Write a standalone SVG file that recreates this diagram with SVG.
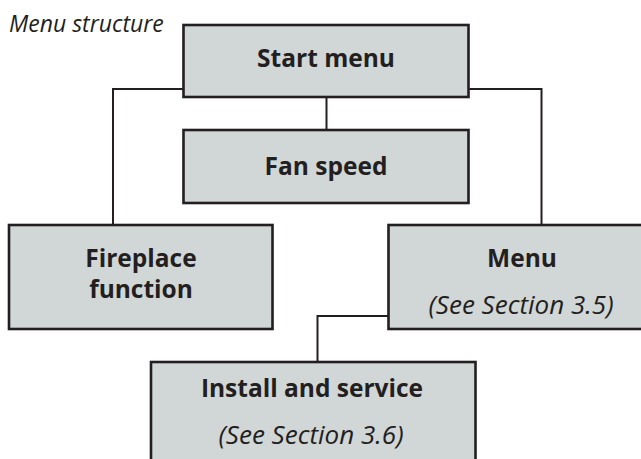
<svg xmlns="http://www.w3.org/2000/svg" width="641" height="459" viewBox="0 0 641 459">
<style>
.box{fill:#d1d6d6;stroke:#231f20;stroke-width:2.6}
.conn{fill:none;stroke:#231f20;stroke-width:2}
.b{font-family:"Open Sans","Liberation Sans",sans-serif;font-weight:bold;font-size:24.5px;fill:#231f20;text-anchor:middle}
.i{font-family:"Open Sans","Liberation Sans",sans-serif;font-style:italic;font-size:26px;fill:#231f20;text-anchor:middle}
</style>
<rect width="641" height="459" fill="#ffffff"/>
<text x="9" y="32" font-family="Open Sans, Liberation Sans, sans-serif" font-style="italic" font-size="23" fill="#231f20">Menu structure</text>
<g id="connectors">
<polyline class="conn" points="183.5,89 113,89 113,225"/>
<polyline class="conn" points="468.5,89 541.5,89 541.5,225"/>
<line class="conn" x1="326.5" y1="97" x2="326.5" y2="130"/>
<polyline class="conn" points="388.5,316 317.5,316 317.5,362"/>
</g>
<g id="start-menu">
<rect class="box" x="183.5" y="25" width="285" height="72"/>
<text class="b" x="326" y="67">Start menu</text>
</g>
<g id="fan-speed">
<rect class="box" x="183.5" y="130" width="285" height="73"/>
<text class="b" x="326" y="175">Fan speed</text>
</g>
<g id="fireplace-function">
<rect class="box" x="9" y="225" width="263.5" height="104"/>
<text class="b" x="141" y="267">Fireplace</text>
<text class="b" x="141" y="298">function</text>
</g>
<g id="menu">
<rect class="box" x="388.5" y="225" width="267" height="104"/>
<text class="b" x="522" y="267">Menu</text>
<text class="i" x="521" y="314">(See Section 3.5)</text>
</g>
<g id="install-and-service">
<rect class="box" x="151" y="362" width="324.5" height="120"/>
<text class="b" x="312" y="397">Install and service</text>
<text class="i" x="311" y="444">(See Section 3.6)</text>
</g>
</svg>
